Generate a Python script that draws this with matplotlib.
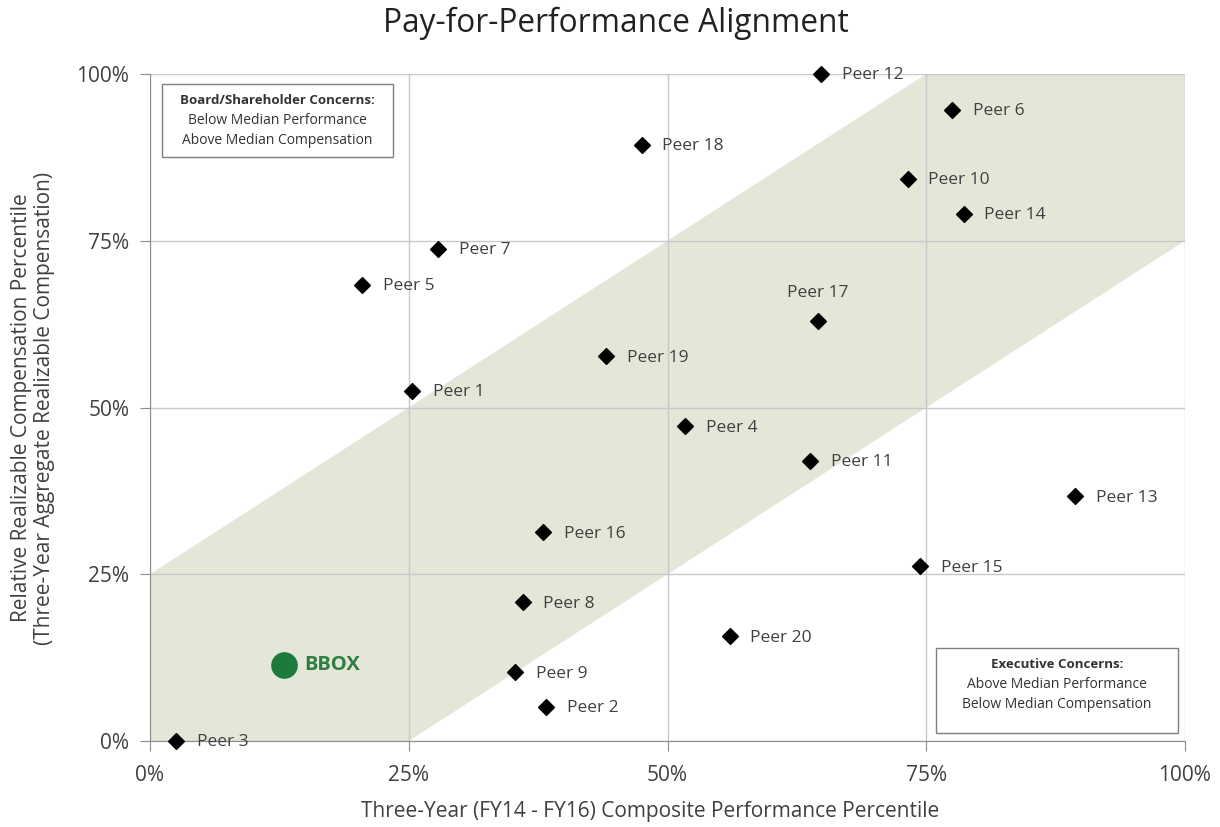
import matplotlib
matplotlib.use("Agg")
import matplotlib.pyplot as plt
from matplotlib.patches import Polygon, Rectangle

plt.rcParams['font.family'] = ['Open Sans', 'DejaVu Sans']

peers = ["Peer 12", "Peer 6", "Peer 18", "Peer 10", "Peer 14", "Peer 7", "Peer 5",
         "Peer 17", "Peer 19", "Peer 1", "Peer 4", "Peer 11", "Peer 13", "Peer 16",
         "Peer 15", "Peer 8", "Peer 20", "Peer 9", "Peer 2", "Peer 3"]
perf = [0.648, 0.775, 0.475, 0.732, 0.786, 0.278, 0.205,
        0.645, 0.441, 0.253, 0.517, 0.638, 0.894, 0.380,
        0.744, 0.360, 0.560, 0.353, 0.383, 0.025]
comp = [1.000, 0.946, 0.894, 0.843, 0.790, 0.738, 0.684,
        0.630, 0.577, 0.525, 0.472, 0.420, 0.367, 0.313,
        0.262, 0.208, 0.157, 0.103, 0.051, 0.000]

company = "BBOX"
company_perf = 0.129
company_comp = 0.114

ticks = [0, 0.25, 0.5, 0.75, 1.0]
tick_labels = ["0%", "25%", "50%", "75%", "100%"]

fig = plt.figure(figsize=(12.2, 8.27), dpi=100)
ax = fig.add_axes([150/1220, 86/827, 1035/1220, 667/827])
ax.set_xlim(0, 1)
ax.set_ylim(0, 1)

band = Polygon([(0, 0), (0, 0.25), (0.75, 1), (1, 1), (1, 0.75), (0.25, 0)],
               closed=True, facecolor="#e3e7d7", edgecolor="none", zorder=0)
ax.add_patch(band)

for t in ticks:
    ax.axvline(t, color="#c8c8c8", lw=1, zorder=1)
    ax.axhline(t, color="#c8c8c8", lw=1, zorder=1)

for s in ["top", "right"]:
    ax.spines[s].set_visible(False)
for s in ["left", "bottom"]:
    ax.spines[s].set_color("#8c8c8c")
    ax.spines[s].set_zorder(2)

ax.set_xticks(ticks)
ax.set_yticks(ticks)
ax.set_xticklabels(tick_labels)
ax.set_yticklabels(tick_labels)
ax.tick_params(axis="both", length=7, color="#8c8c8c", labelsize=15,
               labelcolor="#404040")
ax.tick_params(axis="y", pad=8)
ax.tick_params(axis="x", pad=10)

ax.scatter(perf, comp, marker="D", s=65, color="black", zorder=5, clip_on=False)
for name, x, y in zip(peers, perf, comp):
    if name == "Peer 17":
        ax.annotate(name, (x, y), xytext=(0, 14), textcoords="offset points",
                    ha="center", va="bottom", fontsize=12.5, color="#404040")
    else:
        ax.annotate(name, (x, y), xytext=(15, -1), textcoords="offset points",
                    ha="left", va="center", fontsize=12.5, color="#404040")

ax.scatter([company_perf], [company_comp], marker="o", s=330, color="#1e7a3c", zorder=6)
ax.annotate(company, (company_perf, company_comp), xytext=(15, 0),
            textcoords="offset points", ha="left", va="center", fontsize=14.5,
            fontweight="bold", color="#2e7d45")

fig.text(616/1220, 1 - 23/827, "Pay-for-Performance Alignment", fontsize=22.8,
         color="#222222", ha="center", va="center")
fig.text(650/1220, 1 - 812/827,
         "Three-Year (FY14 - FY16) Composite Performance Percentile",
         fontsize=15, color="#404040", ha="center", va="center")
fig.text(33/1220, 1 - 408/827,
         "Relative Realizable Compensation Percentile\n(Three-Year Aggregate Realizable Compensation)",
         fontsize=15, color="#404040", ha="center", va="center", rotation=90,
         linespacing=1.15, multialignment="center")

# Concern boxes
def concern_box(x0, y0, x1, y1, title, lines):
    fx0, fy0 = x0 / 1220, 1 - y1 / 827
    w, h = (x1 - x0) / 1220, (y1 - y0) / 827
    fig.patches.append(Rectangle((fx0, fy0), w, h, transform=fig.transFigure,
                                 facecolor="white", edgecolor="#7f7f7f", lw=1, zorder=10))
    cx = fx0 + w / 2
    fig.text(cx, 1 - (y0 + 17) / 827, title, ha="center", va="center", fontsize=9.5,
             fontweight="bold", color="#333333", zorder=11)
    fig.text(cx, 1 - (y0 + 37) / 827, lines[0], ha="center", va="center", fontsize=10,
             color="#333333", zorder=11)
    fig.text(cx, 1 - (y0 + 56) / 827, lines[1], ha="center", va="center", fontsize=10,
             color="#333333", zorder=11)

concern_box(162, 84, 393, 157, "Board/Shareholder Concerns:",
            ["Below Median Performance", "Above Median Compensation"])
concern_box(936, 648, 1178, 733, "Executive Concerns:",
            ["Above Median Performance", "Below Median Compensation"])

fig.savefig("out.png", dpi=100)
